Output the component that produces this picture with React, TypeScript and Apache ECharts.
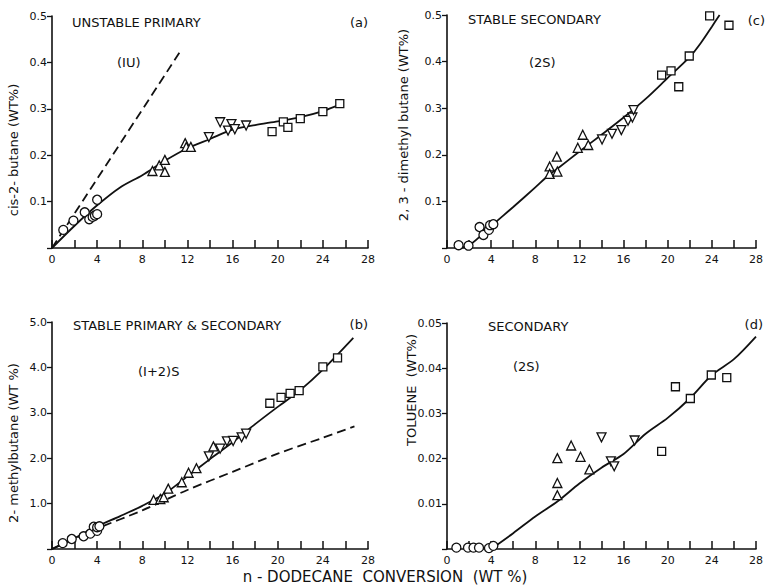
import React, { useEffect, useRef } from 'react';
import * as echarts from 'echarts';

// ---------- Panel (a): cis-2-butane ----------
const aCircles = [[1.0, 0.039], [1.9, 0.059], [2.9, 0.077], [3.3, 0.062], [3.6, 0.067], [3.8, 0.07], [4.0, 0.073], [4.0, 0.104]];
const aUp = [[8.9, 0.166], [9.5, 0.178], [10.0, 0.19], [10.0, 0.164], [11.8, 0.226], [11.9, 0.218], [12.3, 0.218]];
const aDown = [[13.9, 0.239], [14.9, 0.271], [15.6, 0.253], [15.9, 0.267], [16.2, 0.256], [17.2, 0.264]];
const aSquares = [[19.5, 0.251], [20.5, 0.272], [20.9, 0.26], [22.0, 0.279], [24.0, 0.294], [25.5, 0.311]];
const aCurve = [[0, 0], [2, 0.048], [4, 0.092], [6, 0.13], [8, 0.157], [10, 0.188], [12, 0.215], [14, 0.235], [16, 0.255], [18, 0.265], [20, 0.273], [22, 0.282], [24, 0.295], [25.6, 0.31]];
const aDashed = [[0, 0], [11.4, 0.425]];

// ---------- Panel (c): 2,3-dimethyl butane ----------
const cCircles = [[1.05, 0.006], [1.95, 0.005], [2.95, 0.045], [3.3, 0.028], [3.8, 0.039], [3.9, 0.049], [4.2, 0.051]];
const cUp = [[9.3, 0.175], [9.3, 0.159], [9.95, 0.196], [10.0, 0.164], [11.85, 0.215], [12.3, 0.243], [12.8, 0.221]];
const cDown = [[14.05, 0.233], [14.95, 0.245], [15.8, 0.253], [16.4, 0.273], [16.8, 0.28], [16.9, 0.296]];
const cSquares = [[19.45, 0.371], [20.3, 0.38], [21.0, 0.346], [21.95, 0.412], [23.8, 0.498], [25.55, 0.478]];
const cCurve = [[1.0, 0], [2, 0.006], [3, 0.025], [4, 0.047], [6, 0.088], [8, 0.13], [9.2, 0.156], [10, 0.17], [12, 0.207], [14, 0.243], [16, 0.28], [18, 0.32], [20, 0.365], [22, 0.41], [23, 0.44], [24, 0.475], [24.7, 0.5]];

// ---------- Panel (b): 2-methylbutane ----------
const bCircles = [[0.95, 0.13], [1.75, 0.22], [2.8, 0.28], [3.4, 0.34], [3.7, 0.49], [4.0, 0.4], [4.0, 0.48], [4.2, 0.5]];
const bUp = [[9.0, 1.08], [9.6, 1.1], [9.9, 1.14], [10.3, 1.33], [11.5, 1.47], [12.1, 1.68], [12.8, 1.78], [14.3, 2.26]];
const bDown = [[13.9, 2.04], [14.9, 2.21], [15.5, 2.37], [16.05, 2.38], [16.8, 2.46], [17.2, 2.54]];
const bSquares = [[19.3, 3.21], [20.3, 3.34], [21.1, 3.43], [21.9, 3.49], [24.0, 4.01], [25.3, 4.21]];
const bCurve = [[0, 0], [1, 0.12], [2, 0.24], [4, 0.5], [6, 0.72], [8, 0.95], [10, 1.22], [12, 1.6], [14, 1.98], [16, 2.35], [18, 2.75], [20, 3.13], [22, 3.5], [24, 3.95], [26.7, 4.65]];
const bDashed = [[0, 0], [4, 0.45], [8, 0.85], [12, 1.3], [16, 1.7], [20, 2.1], [24, 2.45], [26.8, 2.7]];

// ---------- Panel (d): toluene ----------
const dCircles = [[0.85, 0.0003], [1.9, 0.0003], [2.4, 0.0003], [2.9, 0.0003], [3.8, 0.0002], [4.2, 0.0007]];
const dUp = [[10.0, 0.0201], [10.0, 0.0146], [10.0, 0.0119], [11.25, 0.0229], [12.1, 0.0204], [12.9, 0.0176]];
const dDown = [[14.0, 0.0247], [14.85, 0.0194], [15.15, 0.0183], [17.0, 0.024]];
const dSquares = [[19.45, 0.0216], [20.7, 0.0359], [22.05, 0.0333], [23.95, 0.0385], [25.35, 0.0379]];
const dCurve = [[4, 0], [6, 0.0035], [8, 0.0072], [10, 0.0105], [12, 0.0145], [14, 0.018], [16, 0.021], [18, 0.0255], [20, 0.029], [22, 0.0333], [24, 0.0385], [26, 0.042], [28, 0.047]];

const xTicks = [0, 4, 8, 12, 16, 20, 24, 28];

const FONT = '"DejaVu Sans", "Liberation Sans", sans-serif';
const INK = '#111';

export default function App() {
  const ref = useRef<HTMLDivElement>(null);
  useEffect(() => {
    if (!ref.current) return;
    const chart = echarts.init(ref.current, null, { renderer: 'svg' });

    const grids = [
      { left: 52, top: 16, width: 316, height: 232 },
      { left: 447, top: 15, width: 317, height: 233 },
      { left: 52, top: 322, width: 316, height: 227 },
      { left: 447, top: 323, width: 317, height: 226 },
    ];
    const yMax = [0.5, 0.5, 5, 0.05];
    const yInt = [0.1, 0.1, 1, 0.01];
    const yDec = [1, 1, 1, 2];

    const xAxis = grids.map((_, i) => ({
      type: 'value', gridIndex: i, min: 0, max: 28, interval: 2,
      axisLine: { show: true, onZero: false, lineStyle: { color: INK, width: 1.6 } },
      axisTick: { show: true, inside: true, length: 8, lineStyle: { color: INK, width: 1.5 } },
      splitLine: { show: false },
      axisLabel: {
        color: INK, fontFamily: FONT, fontSize: 11, margin: 6,
        formatter: (v: number) => (xTicks.indexOf(v) >= 0 ? String(v) : ''),
      },
    }));
    const yAxis = grids.map((_, i) => ({
      type: 'value', gridIndex: i, min: 0, max: yMax[i], interval: yInt[i],
      axisLine: { show: true, onZero: false, lineStyle: { color: INK, width: 1.6 } },
      axisTick: { show: true, inside: false, length: 5, lineStyle: { color: INK, width: 1.3 } },
      splitLine: { show: false },
      axisLabel: {
        color: INK, fontFamily: FONT, fontSize: 11, margin: 5,
        formatter: (v: number) => (v === 0 ? '' : v.toFixed(yDec[i])),
      },
    }));

    const mk = (data: number[][], idx: number, symbol: string, size: number, rotate = 0) => ({
      type: 'scatter', xAxisIndex: idx, yAxisIndex: idx, data, symbol, symbolSize: size, symbolRotate: rotate, z: 5,
      itemStyle: { color: '#fff', borderColor: INK, borderWidth: 1.3, opacity: 1 },
    });
    const ln = (data: number[][], idx: number, dashed: boolean) => ({
      type: 'line', xAxisIndex: idx, yAxisIndex: idx, data, showSymbol: false, symbol: 'none', smooth: 0.3, z: 3,
      lineStyle: { color: INK, width: 1.8, type: dashed ? [9, 5] : 'solid' },
    });

    const series: any[] = [
      ln(aCurve, 0, false), ln(aDashed, 0, true),
      mk(aCircles, 0, 'circle', 9), mk(aUp, 0, 'triangle', 9), mk(aDown, 0, 'triangle', 9, 180), mk(aSquares, 0, 'rect', 8),
      ln(cCurve, 1, false),
      mk(cCircles, 1, 'circle', 9), mk(cUp, 1, 'triangle', 9), mk(cDown, 1, 'triangle', 9, 180), mk(cSquares, 1, 'rect', 8),
      ln(bCurve, 2, false), ln(bDashed, 2, true),
      mk(bCircles, 2, 'circle', 9), mk(bUp, 2, 'triangle', 9), mk(bDown, 2, 'triangle', 9, 180), mk(bSquares, 2, 'rect', 8),
      ln(dCurve, 3, false),
      mk(dCircles, 3, 'circle', 9), mk(dUp, 3, 'triangle', 9), mk(dDown, 3, 'triangle', 9, 180), mk(dSquares, 3, 'rect', 8),
    ];

    const txt = (text: string, x: number, y: number, size: number, align = 'left', rot = 0) => ({
      type: 'text', x, y, rotation: rot, z: 10,
      style: { text, fontFamily: FONT, fontSize: size, fill: INK, align, verticalAlign: 'middle' },
    });

    const graphic = [
      txt('UNSTABLE PRIMARY', 72, 22, 13),
      txt('(a)', 368, 22, 13, 'right'),
      txt('(IU)', 117, 62, 13),
      txt('STABLE SECONDARY', 468, 19, 13),
      txt('(c)', 765, 20, 13, 'right'),
      txt('(2S)', 529, 62, 13),
      txt('STABLE PRIMARY & SECONDARY', 73, 325, 13),
      txt('(b)', 368, 324, 13, 'right'),
      txt('(I+2)S', 138, 371, 13),
      txt('SECONDARY', 488, 326, 13),
      txt('(2S)', 513, 366, 13),
      txt('(d)', 763, 324, 13, 'right'),
      txt('cis-2- butane (WT%)', 13, 150, 13, 'center', Math.PI / 2),
      txt('2, 3 - dimethyl butane (WT%)', 403, 125, 13, 'center', Math.PI / 2),
      txt('2- methylbutane (WT %)', 13, 443, 13, 'center', Math.PI / 2),
      txt('TOLUENE  (WT%)', 411, 390, 13, 'center', Math.PI / 2),
      txt('n - DODECANE  CONVERSION  (WT %)', 385, 577, 15, 'center'),
    ];

    chart.setOption({
      animation: false,
      backgroundColor: '#fff',
      grid: grids,
      xAxis, yAxis, series, graphic,
    });
    return () => chart.dispose();
  }, []);
  return <div ref={ref} style={{ position: 'absolute', left: 0, top: 0, width: 766, height: 586 }} />;
}
